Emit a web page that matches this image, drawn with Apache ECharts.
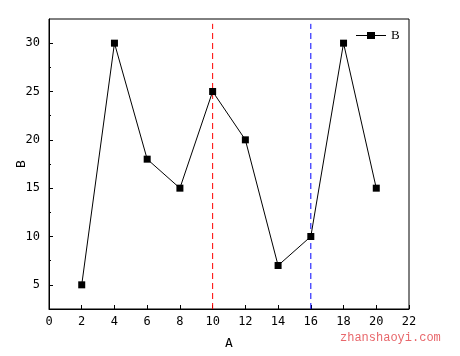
<!DOCTYPE html>
<html><head><meta charset="utf-8">
<script src="https://cdn.jsdelivr.net/npm/echarts@6/dist/echarts.min.js"></script>
<style>html,body{margin:0;padding:0;background:#fff}#c{width:460px;height:356px}</style>
</head><body><div id="c"></div>
<script>
const xValues = [2, 4, 6, 8, 10, 12, 14, 16, 18, 20];
const bValues = [5, 30, 18, 15, 25, 20, 7, 10, 30, 15];
const yTicks = [5, 10, 15, 20, 25, 30];
const yMinorTicks = [7.5, 12.5, 17.5, 22.5, 27.5];
const redLineX = 10;
const blueLineX = 16;
const refLineY = [2.5, 32];
const font = 'DejaVu Sans Mono';

const chart = echarts.init(document.getElementById('c'), null, {renderer: 'canvas'});
chart.setOption({
  animation: false,
  backgroundColor: '#fff',
  grid: {left: 49, right: 51, top: 19, bottom: 47, containLabel: false, outerBoundsMode: 'none',
    show: true, borderColor: '#000', borderWidth: 1},
  legend: {
    data: [{name: 'B', icon: 'path://M0,3H11V0H19V3H30V4H19V7H11V4H0Z'}],
    left: 351, top: 24, itemWidth: 30, itemHeight: 7, itemGap: 4,
    textStyle: {fontFamily: 'Liberation Serif', fontSize: 13, color: '#000'}
  },
  xAxis: {
    type: 'value', min: 0, max: 22, interval: 2,
    name: 'A', nameLocation: 'middle', nameGap: 28, nameMoveOverlap: false,
    nameTextStyle: {fontFamily: font, fontSize: 13, color: '#000'},
    axisLine: {lineStyle: {color: '#000', width: 1}},
    axisTick: {inside: true, length: 4, lineStyle: {color: '#000'}},
    axisLabel: {fontFamily: font, fontSize: 12, color: '#000', margin: 7},
    splitLine: {show: false}
  },
  yAxis: [
    {
      type: 'value', min: 2.5, max: 32.5,
      name: 'B', nameLocation: 'middle', nameGap: 21, nameMoveOverlap: false,
      nameTextStyle: {fontFamily: font, fontSize: 13, color: '#000'},
      axisLine: {lineStyle: {color: '#000', width: 1}},
      axisTick: {inside: true, length: 4, customValues: yTicks, lineStyle: {color: '#000'}},
      axisLabel: {fontFamily: font, fontSize: 12, color: '#000', margin: 9, customValues: yTicks},
      splitLine: {show: false}
    },
    {
      type: 'value', min: 2.5, max: 32.5, position: 'left',
      axisLine: {show: false},
      axisTick: {inside: true, length: 2, customValues: yMinorTicks, lineStyle: {color: '#000'}},
      axisLabel: {show: false},
      splitLine: {show: false}
    }
  ],
  series: [
    {
      name: 'B', type: 'line',
      data: xValues.map((x, i) => [x, bValues[i]]),
      symbol: 'rect', symbolSize: 7,
      itemStyle: {color: '#000'},
      lineStyle: {color: '#000', width: 1},
      z: 3
    },
    {
      name: 'redRef', type: 'line',
      data: refLineY.map(y => [redLineX, y]),
      symbol: 'none',
      lineStyle: {color: '#ff0000', width: 1, type: [6, 4]},
      z: 2
    },
    {
      name: 'blueRef', type: 'line',
      data: refLineY.map(y => [blueLineX, y]),
      symbol: 'none',
      lineStyle: {color: '#0000ff', width: 1, type: [6, 4]},
      z: 2
    }
  ],
  graphic: [{
    type: 'text', left: 340, top: 332,
    style: {text: 'zhanshaoyi.com', fontFamily: 'Liberation Mono', fontSize: 12, fill: '#e8676b'}
  }]
});
</script>
</body></html>
